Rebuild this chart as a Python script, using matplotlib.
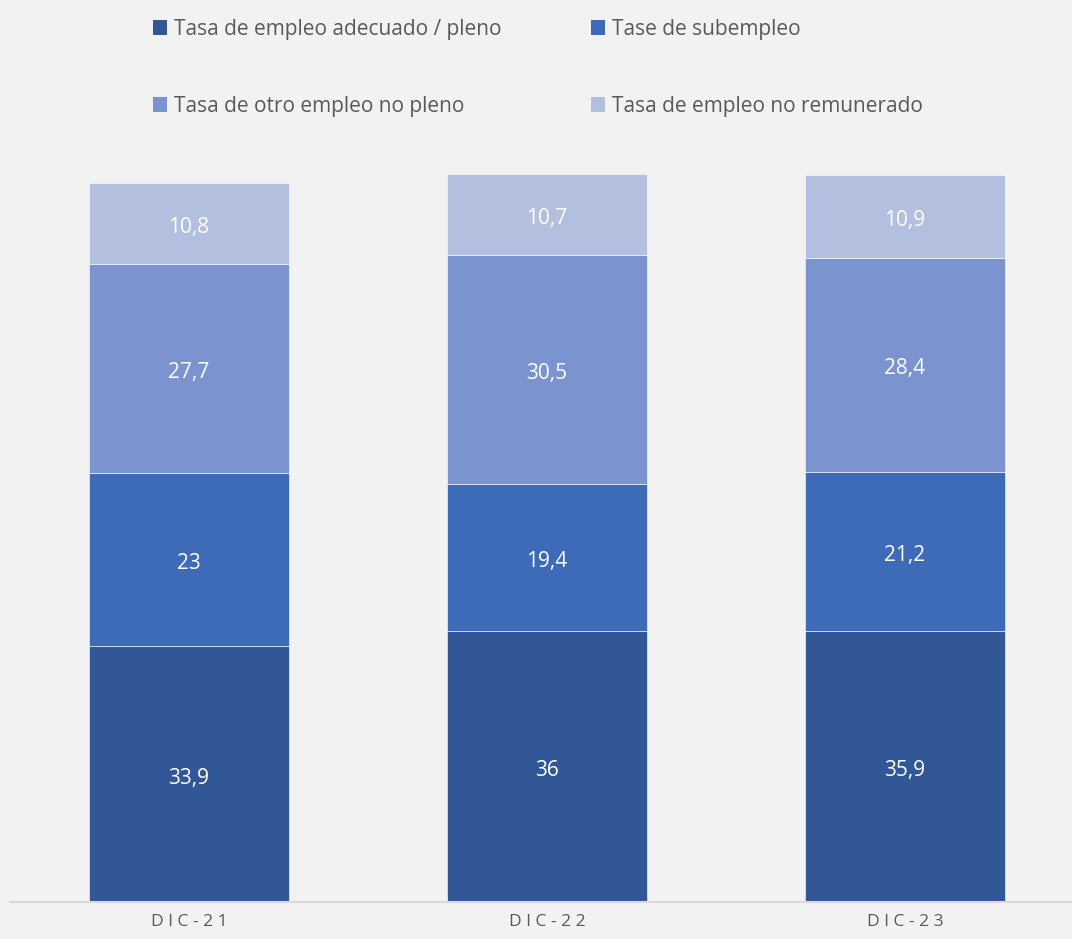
import matplotlib
matplotlib.use("Agg")
import matplotlib.pyplot as plt
from matplotlib.patches import Patch
import numpy as np

# datos
categorias = ["DIC-21", "DIC-22", "DIC-23"]
series = ["Tasa de empleo adecuado / pleno", "Tase de subempleo",
          "Tasa de otro empleo no pleno", "Tasa de empleo no remunerado"]
adecuado = [33.9, 36.0, 35.9]
subempleo = [23.0, 19.4, 21.2]
otro = [27.7, 30.5, 28.4]
no_remunerado = [10.8, 10.7, 10.9]
etiquetas = [["33,9", "36", "35,9"], ["23", "19,4", "21,2"],
             ["27,7", "30,5", "28,4"], ["10,8", "10,7", "10,9"]]

colores = ["#325797", "#3D6BB8", "#7B93CF", "#B3BFDF"]
fondo = "#F2F2F2"

plt.rcParams['font.family'] = ['Open Sans', 'DejaVu Sans']

fig = plt.figure(figsize=(10.72, 9.39), dpi=100, facecolor=fondo)
ax = fig.add_axes([10 / 1072, 37 / 939, 1 - 10 / 1072, 753.7 / 939], facecolor=fondo)

x = np.arange(len(categorias))
base = np.zeros(len(categorias))
for vals, col, labs in zip([adecuado, subempleo, otro, no_remunerado], colores, etiquetas):
    ax.bar(x, vals, width=0.56, bottom=base, color=col, edgecolor="#FFFFFF", linewidth=0.4)
    for xi, b, v, t in zip(x, base, vals, labs):
        ax.annotate(t, (xi, b + v / 2), xytext=(0, -3), textcoords="offset points",
                    ha="center", va="center", color="white", fontsize=15)
    base = base + np.array(vals)

ax.set_xlim(-0.5, 2.5 - 12 / 358)
ax.set_ylim(0, 100)
ax.set_xticks(x)
ax.set_xticklabels([" ".join(c) for c in categorias], color="#595959", fontsize=12.5)
ax.tick_params(axis="x", length=0, pad=9)
ax.set_yticks([])
for s in ["top", "right", "left"]:
    ax.spines[s].set_visible(False)
ax.spines["bottom"].set_color("#D9D9D9")
ax.spines["bottom"].set_linewidth(1.5)

# la leyenda se llena por columnas: reordenar para que quede por filas
orden = [0, 2, 1, 3]
handles = [Patch(facecolor=colores[i]) for i in orden]
nombres = [series[i] for i in orden]
fig.legend(handles, nombres, ncol=2, loc="upper left", bbox_to_anchor=(134 / 1072, 1),
           frameon=False, fontsize=15, labelcolor="#595959", handlelength=0.7,
           handleheight=0.7, handletextpad=0.3, labelspacing=2.7, columnspacing=4.3)

fig.savefig("out.png", dpi=100, facecolor=fondo)
